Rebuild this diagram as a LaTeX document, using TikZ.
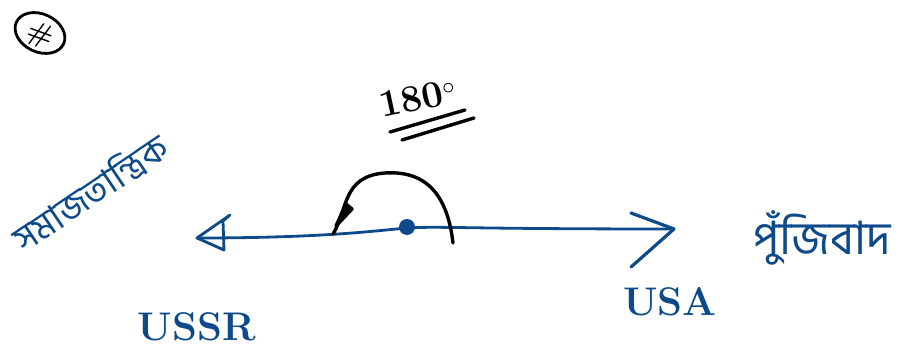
\documentclass[tikz,border=0pt]{standalone}
\usepackage{fontspec}
\usetikzlibrary{shapes.geometric}
\newfontfamily\bnfont[Script=Bengali]{Hind Siliguri}
\definecolor{ink}{HTML}{0D4A8A}
\begin{document}
\begin{tikzpicture}[x=1pt,y=-1pt,
  blueline/.style={draw=ink,line width=2.8pt,line cap=round,line join=round},
  blackline/.style={draw=black,line width=3.4pt,line cap=round,line join=round},
  bntext/.style={text=ink,font=\bnfont\fontsize{36}{40}\selectfont,inner sep=0pt},
  entext/.style={text=ink,font=\bfseries\fontsize{40}{44}\selectfont,inner sep=0pt}]
\useasboundingbox (0,0) rectangle (919,352);
% main axis
\coordinate (L) at (197,238);
\coordinate (R) at (674,229);
\draw[blueline] (L) .. controls (330,238) and (380,230) .. (408,228)
  .. controls (440,226) and (460,229) .. (R);
% right arrowhead
\coordinate (Ru) at (631,213);
\coordinate (Rd) at (631,267);
\draw[blueline,line width=3.2pt] (Ru) -- (R) -- (Rd);
% left arrowhead
\coordinate (La) at (223,221);
\coordinate (Lb) at (224,250);
\coordinate (Lt) at (230,215);
\draw[blueline] (Lt) -- (La) -- (Lb) -- (L) -- cycle;
% origin dot
\node[circle,fill=ink,minimum size=16pt,inner sep=0pt] (O) at (407,227) {};
% angle arc
\coordinate (A0) at (333,234);
\coordinate (A1) at (453,243);
\draw[blackline] (A0) .. controls (348,210) and (342,176) .. (385,173)
  .. controls (430,170) and (448,200) .. (A1);
\draw[blackline,fill=black] (336,226) -- (346,204) -- (352,209) -- cycle;
% 180 degrees
\node[rotate=12,font=\bfseries\fontsize{38}{42}\selectfont,inner sep=0pt] (deg) at (418,98) {180$^{\circ}$};
\draw[blackline] (390,132) -- (465,110);
\draw[blackline] (402,140) -- (474,118);
% labels
\node[bntext,rotate=34] (soc) at (90,192) {সমাজতান্ত্রিক};
\node[bntext,font=\bnfont\fontsize{46}{50}\selectfont] (cap) at (822,238) {পুঁজিবাদ};
\node[entext] (ussr) at (197,327) {USSR};
\node[entext] (usa) at (670,302) {USA};
% circled mark
\node[draw=black,line width=2.8pt,ellipse,rotate=-25,minimum width=52pt,minimum height=38pt,inner sep=0pt] (mark) at (40,33) {};
\node[rotate=-20,font=\bfseries\fontsize{28}{30}\selectfont,inner sep=0pt] (hash) at (40,35) {\#};
\end{tikzpicture}
\end{document}
